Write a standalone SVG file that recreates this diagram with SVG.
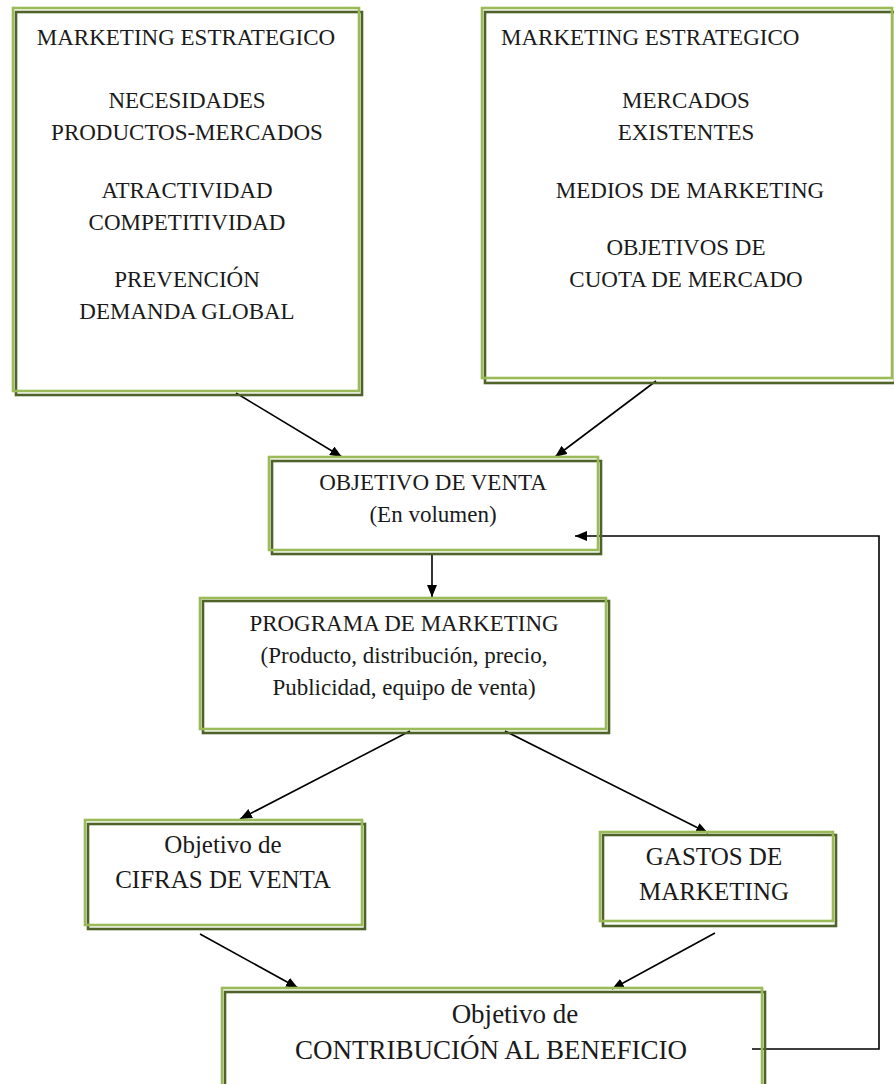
<svg xmlns="http://www.w3.org/2000/svg" width="894" height="1084" viewBox="0 0 894 1084">
  <defs>
    <marker id="arrow" viewBox="0 0 12 10" refX="12" refY="5" markerWidth="12" markerHeight="10" markerUnits="userSpaceOnUse" orient="auto">
      <path d="M0,0 L12,5 L0,10 Z" fill="#000"/>
    </marker>
    <style>
      .shadow { fill: none; stroke: #4F6228; stroke-width: 2.6; }
      .frame { fill: none; stroke: #9BBB59; stroke-width: 2.6; }
      .t { font-family: "Liberation Serif", "Times New Roman", serif; font-size: 23px; fill: #1a1a1a; }
      .big { font-size: 25px; }
      .huge { font-size: 27px; }
      .c { text-anchor: middle; }
      .link { fill: none; stroke: #000; stroke-width: 1.6; }
    </style>
  </defs>
  <rect width="894" height="1084" fill="#fff"/>

  <!-- connectors -->
  <g id="connectors">
    <line class="link" x1="236" y1="393" x2="342" y2="457" marker-end="url(#arrow)"/>
    <line class="link" x1="656" y1="381" x2="555" y2="457" marker-end="url(#arrow)"/>
    <line class="link" x1="432" y1="554" x2="432" y2="597" marker-end="url(#arrow)"/>
    <line class="link" x1="410" y1="731" x2="240" y2="819" marker-end="url(#arrow)"/>
    <line class="link" x1="505" y1="731" x2="708" y2="833" marker-end="url(#arrow)"/>
    <line class="link" x1="200" y1="934" x2="298" y2="988" marker-end="url(#arrow)"/>
    <line class="link" x1="715" y1="933" x2="612" y2="989" marker-end="url(#arrow)"/>
    <polyline class="link" points="752,1049 879,1049 879,536 575,536" marker-end="url(#arrow)"/>
  </g>

  <!-- strategic marketing: needs and demand -->
  <g id="estrategico-1">
    <rect class="shadow" x="16" y="12" width="346" height="383"/>
    <rect class="frame" x="13" y="8" width="346" height="383"/>
    <text class="t c" x="186" y="45">MARKETING ESTRATEGICO</text>
    <text class="t c" x="187" y="108">NECESIDADES</text>
    <text class="t c" x="187" y="140">PRODUCTOS-MERCADOS</text>
    <text class="t c" x="187" y="198">ATRACTIVIDAD</text>
    <text class="t c" x="187" y="230">COMPETITIVIDAD</text>
    <text class="t c" x="187" y="287">PREVENCIÓN</text>
    <text class="t c" x="187" y="319">DEMANDA GLOBAL</text>
  </g>

  <!-- strategic marketing: markets and share -->
  <g id="estrategico-2">
    <rect class="shadow" x="485" y="12" width="410" height="371"/>
    <rect class="frame" x="482" y="8" width="410" height="370"/>
    <text class="t" x="501" y="45">MARKETING ESTRATEGICO</text>
    <text class="t c" x="686" y="108">MERCADOS</text>
    <text class="t c" x="686" y="140">EXISTENTES</text>
    <text class="t c" x="690" y="198">MEDIOS DE MARKETING</text>
    <text class="t c" x="686" y="255">OBJETIVOS DE</text>
    <text class="t c" x="686" y="287">CUOTA DE MERCADO</text>
  </g>

  <!-- sales target -->
  <g id="objetivo-venta">
    <rect class="shadow" x="272" y="461" width="329" height="93"/>
    <rect class="frame" x="269" y="457" width="329" height="93"/>
    <text class="t c" x="433" y="490">OBJETIVO DE VENTA</text>
    <text class="t c" x="433" y="522">(En volumen)</text>
  </g>

  <!-- marketing programme -->
  <g id="programa">
    <rect class="shadow" x="203" y="601" width="406" height="132"/>
    <rect class="frame" x="200" y="598" width="406" height="131"/>
    <text class="t c" x="404" y="631">PROGRAMA DE MARKETING</text>
    <text class="t c" x="404" y="663">(Producto, distribución, precio,</text>
    <text class="t c" x="404" y="695">Publicidad, equipo de venta)</text>
  </g>

  <!-- sales figures target -->
  <g id="cifras-venta">
    <rect class="shadow" x="88" y="824" width="277" height="105"/>
    <rect class="frame" x="85" y="820" width="277" height="105"/>
    <text class="t big c" x="223" y="853">Objetivo de</text>
    <text class="t big c" x="223" y="888">CIFRAS DE VENTA</text>
  </g>

  <!-- marketing expenses -->
  <g id="gastos">
    <rect class="shadow" x="603" y="835" width="233" height="91"/>
    <rect class="frame" x="600" y="832" width="233" height="89"/>
    <text class="t big c" x="714" y="865">GASTOS DE</text>
    <text class="t big c" x="714" y="900">MARKETING</text>
  </g>

  <!-- contribution to profit -->
  <g id="contribucion">
    <rect class="shadow" x="225" y="992" width="540" height="110"/>
    <rect class="frame" x="222" y="988" width="540" height="110"/>
    <text class="t huge c" x="515" y="1023">Objetivo de</text>
    <text class="t huge c" x="491" y="1059">CONTRIBUCIÓN AL BENEFICIO</text>
  </g>
</svg>
